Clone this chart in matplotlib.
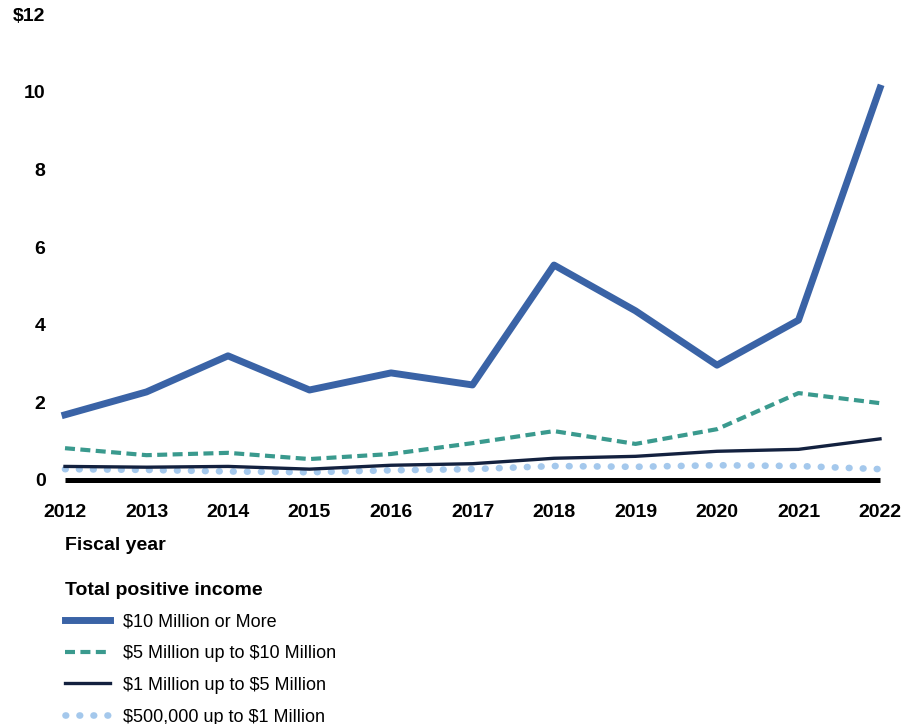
import matplotlib
matplotlib.use('Agg')
import matplotlib.pyplot as plt

plt.rcParams['font.family'] = ['Liberation Sans', 'DejaVu Sans']

years = [2012, 2013, 2014, 2015, 2016, 2017, 2018, 2019, 2020, 2021, 2022]
over_10m = [1.68, 2.27, 3.20, 2.32, 2.76, 2.45, 5.54, 4.36, 2.96, 4.12, 10.1]
m5_to_10m = [0.82, 0.64, 0.70, 0.54, 0.67, 0.95, 1.26, 0.93, 1.31, 2.24, 1.98]
m1_to_5m = [0.35, 0.33, 0.35, 0.28, 0.38, 0.42, 0.56, 0.61, 0.74, 0.79, 1.06]
k500_to_1m = [0.28, 0.26, 0.22, 0.20, 0.25, 0.28, 0.36, 0.34, 0.38, 0.36, 0.28]

labels = ['$10 Million or More', '$5 Million up to $10 Million',
          '$1 Million up to $5 Million', '$500,000 up to $1 Million']
yticks = [0, 2, 4, 6, 8, 10, 12]
ytick_labels = ['0', '2', '4', '6', '8', '10', '$12']

def esc(s):
    return s.replace('$', r'\$')

fig = plt.figure(figsize=(9.17, 7.24), dpi=100)
ax = fig.add_axes([65/917, 1 - 480/724, (880 - 65)/917, (480 - 14.4)/724])

# baseline at zero
ax.plot([years[0], years[-1]], [0, 0], color='black', lw=3.6, solid_capstyle='butt',
        clip_on=False, zorder=1)
ax.plot(years, k500_to_1m, color='#a4c8ec', lw=4.8, linestyle=(0, (0.1, 2.0)),
        dash_capstyle='round', clip_on=False, label=esc(labels[3]), zorder=2)
ax.plot(years, m1_to_5m, color='#13213f', lw=2.4, clip_on=False,
        label=esc(labels[2]), zorder=3)
ax.plot(years, m5_to_10m, color='#3a9a8e', lw=3, linestyle=(0, (2.4, 1.3)),
        clip_on=False, label=esc(labels[1]), zorder=4)
ax.plot(years, over_10m, color='#3a63a6', lw=5, clip_on=False,
        label=esc(labels[0]), zorder=5)

ax.set_xlim(2012, 2022)
ax.set_ylim(0, 12)
ax.set_xticks(years)
ax.set_xticklabels([str(y) for y in years], fontsize=14, fontweight='bold')
ax.set_yticks(yticks)
ax.set_yticklabels([esc(t) for t in ytick_labels], fontsize=14, fontweight='bold')
ax.tick_params(axis='x', length=0, pad=17)
ax.tick_params(axis='y', length=0, pad=14)
for s in ax.spines.values():
    s.set_visible(False)

fig.text(65/917, 1 - 545/724, 'Fiscal year', fontsize=14, fontweight='bold',
         ha='left', va='center')

handles, labs = ax.get_legend_handles_labels()
order = [labs.index(esc(l)) for l in labels]
leg = fig.legend([handles[i] for i in order], [labs[i] for i in order],
                 loc='upper left', bbox_to_anchor=(58/917, 1 - 575/724),
                 title='Total positive income', frameon=False, fontsize=13,
                 handlelength=2.5, handletextpad=0.7, labelspacing=0.82,
                 borderaxespad=0)
leg.get_title().set_fontweight('bold')
leg.get_title().set_fontsize(14)
leg._legend_box.align = 'left'
leg._legend_box.sep = 10

fig.savefig('out.png', dpi=100)
